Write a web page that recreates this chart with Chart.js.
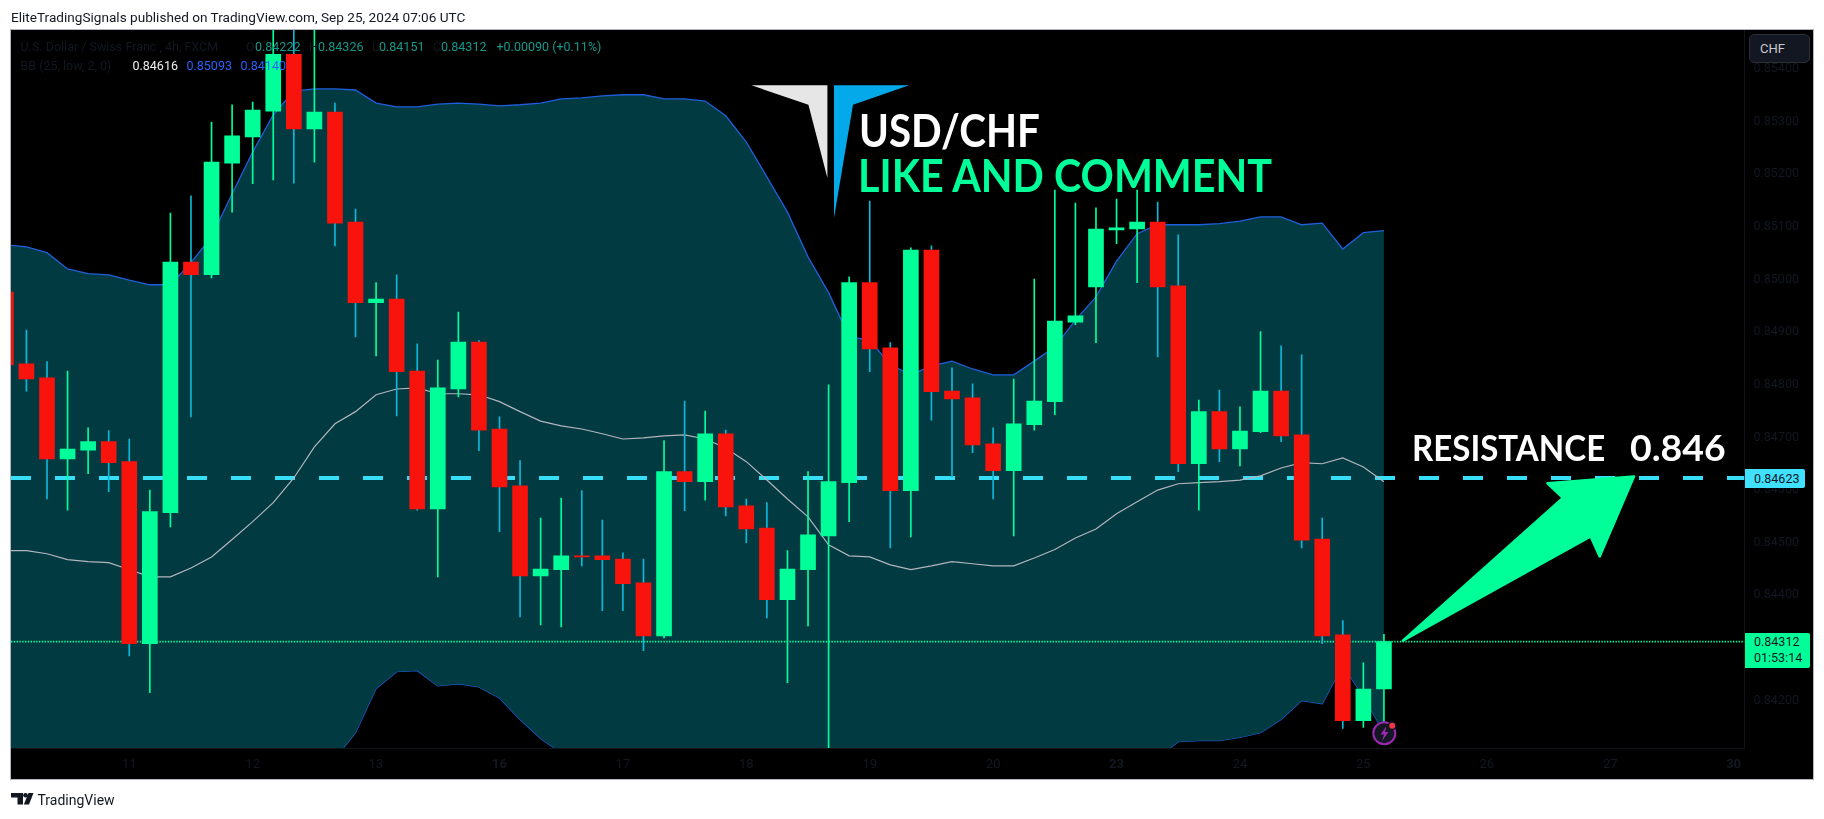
<!DOCTYPE html>
<html>
<head>
<meta charset="utf-8">
<title>USD/CHF</title>
<script src="https://cdn.jsdelivr.net/npm/chart.js@4"></script>
<style>
  html, body { margin: 0; padding: 0; background: #fff; width: 1824px; height: 819px; overflow: hidden; }
  #frame { position: absolute; left: 10px; top: 29px; width: 1802px; height: 749px; background: #000; border: 1px solid #b2b5be; }
  #graphic { position: absolute; left: 0; top: 0; }
  .txt { position: absolute; white-space: pre; font-family: Roboto, sans-serif; }
  .dark { color: #131722; }
  .teal { color: #14998a; }
  .blue { color: #2962ff; }
  .row1, .row2 { font-size: 12.5px; line-height: 16px; }
  .row1 { top: 39px; }
  .row2 { top: 58px; }
  .big { font-family: Lato, sans-serif; font-weight: 700; transform-origin: left top; }
  #chf { position: absolute; left: 1749px; top: 34px; width: 59px; height: 27px; background: #131722; border: 1px solid #2a2e39; border-radius: 5px; color: #c9cbd1; font: 13px/27px Roboto, sans-serif; text-indent: 10px; }
  .tag { position: absolute; left: 1745px; color: #131722; font: 12.5px/19px Roboto, sans-serif; padding-left: 9px; box-sizing: border-box; border-radius: 0 2px 2px 0; }
  svg { position: absolute; overflow: visible; }
</style>
</head>
<body>
<div id="frame"></div>
<canvas id="graphic" width="1824" height="819"></canvas>

<div class="txt dark" style="left:11px;top:9px;font-size:13.6px;line-height:16px">EliteTradingSignals published on TradingView.com, Sep 25, 2024 07:06 UTC</div>

<div class="txt dark row1" style="left:20.5px">U.S. Dollar / Swiss Franc , 4h, FXCM</div>
<div class="txt dark row1" style="left:246px">O</div><div class="txt teal row1" style="left:255px">0.84222</div>
<div class="txt dark row1" style="left:309px">H</div><div class="txt teal row1" style="left:318px">0.84326</div>
<div class="txt dark row1" style="left:372px">L</div><div class="txt teal row1" style="left:379px">0.84151</div>
<div class="txt dark row1" style="left:433px">C</div><div class="txt teal row1" style="left:441px">0.84312</div>
<div class="txt teal row1" style="left:496.5px">+0.00090 (+0.11%)</div>
<div class="txt dark row2" style="left:20.5px">BB (25, low, 2, 0)</div>
<div class="txt row2" style="left:132.5px;color:#eee">0.84616</div>
<div class="txt blue row2" style="left:186.5px">0.85093</div>
<div class="txt blue row2" style="left:240.5px">0.84140</div>

<svg style="left:0;top:0" width="1824" height="819">
  <polygon points="751.4,85.3 827.4,85.3 827.4,178 808.4,104.7" fill="#e6e6e6"/>
  <polygon points="834,85.3 909.2,85.3 853,104.7 834,218" fill="#03a9e8"/>
  <circle cx="1384.3" cy="733.3" r="11" fill="#131722" stroke="#9c27b0" stroke-width="2"/>
  <polygon points="1386.5,726 1380.5,734.5 1384,734.5 1382,741 1388.5,732 1385,732" fill="#9c27b0"/>
  <circle cx="1392.2" cy="725.7" r="4.5" fill="#131722"/>
  <circle cx="1392.2" cy="725.7" r="3" fill="#f23645"/>
  <g fill="#131722">
    <polygon points="11,793 23,793 23,804.5 17.5,804.5 17.5,797.5 11,797.5"/>
    <circle cx="25.5" cy="795.3" r="2.3"/>
    <polygon points="28.5,793 33.5,793 29,804.5 23.8,804.5"/>
  </g>
</svg>

<div class="txt big" data-w="181" style="left:859px;top:103px;font-size:45px;line-height:54px;color:#fff">USD/CHF</div>
<div class="txt big" data-w="414" style="left:858px;top:148px;font-size:45px;line-height:54px;color:#00ff99">LIKE AND COMMENT</div>
<div class="txt big" data-w="193" style="left:1411.5px;top:425px;font-size:37px;line-height:44px;color:#fff">RESISTANCE</div>
<div class="txt big" data-w="96" style="left:1630px;top:425px;font-size:37px;line-height:44px;color:#fff">0.846</div>

<div id="chf">CHF</div>
<div class="tag" style="top:469px;width:60px;height:19px;background:#40e0ff">0.84623</div>
<div class="tag" style="top:633px;width:65px;height:35px;background:#00ff99;line-height:16px;padding-top:1px">0.84312<br>01:53:14</div>

<div class="txt dark" style="left:37.5px;top:791px;font-size:14px;line-height:18px">TradingView</div>

<script>
// Candles, one every 4 hours
const candleOpen = [
  0.84976, 0.84840, 0.84813, 0.84659, 0.84676, 0.84692, 0.84654, 0.84308, 0.84557, 0.85033,
  0.85009, 0.85221, 0.85271, 0.85320, 0.85428, 0.85286, 0.85318, 0.85109, 0.84956, 0.84963,
  0.84826, 0.84564, 0.84792, 0.84881, 0.84716, 0.84608, 0.84437, 0.84449, 0.84475, 0.84475,
  0.84469, 0.84424, 0.84323, 0.84635, 0.84616, 0.84707, 0.84570, 0.84528, 0.84392, 0.84449,
  0.84513, 0.84614, 0.84994, 0.84870, 0.84599, 0.85056, 0.84788, 0.84775, 0.84688, 0.84637,
  0.84724, 0.84768, 0.84919, 0.84986, 0.85094, 0.85096, 0.85109, 0.84988, 0.84650, 0.84749,
  0.84678, 0.84711, 0.84788, 0.84705, 0.84507, 0.84325, 0.84162, 0.84222
];
const candleHigh = [
  0.84999, 0.84904, 0.84844, 0.84826, 0.84718, 0.84713, 0.84697, 0.84600, 0.85126, 0.85159,
  0.85299, 0.85332, 0.85337, 0.85503, 0.85512, 0.85503, 0.85335, 0.85134, 0.84994, 0.85009,
  0.84878, 0.84847, 0.84938, 0.84884, 0.84739, 0.84656, 0.84547, 0.84585, 0.84599, 0.84543,
  0.84481, 0.84469, 0.84694, 0.84769, 0.84750, 0.84714, 0.84583, 0.84576, 0.84485, 0.84635,
  0.84800, 0.85005, 0.85149, 0.84880, 0.85060, 0.85064, 0.84832, 0.84802, 0.84718, 0.84811,
  0.85001, 0.85170, 0.85145, 0.85136, 0.85153, 0.85170, 0.85147, 0.85085, 0.84771, 0.84790,
  0.84758, 0.84901, 0.84874, 0.84857, 0.84547, 0.84352, 0.84272, 0.84326
];
const candleLow = [
  0.84819, 0.84788, 0.84583, 0.84562, 0.84631, 0.84597, 0.84285, 0.84215, 0.84530, 0.84739,
  0.85003, 0.85128, 0.85182, 0.85189, 0.85183, 0.85223, 0.85064, 0.84891, 0.84855, 0.84741,
  0.84562, 0.84435, 0.84777, 0.84675, 0.84521, 0.84359, 0.84344, 0.84340, 0.84456, 0.84371,
  0.84371, 0.84295, 0.84319, 0.84561, 0.84581, 0.84551, 0.84500, 0.84357, 0.84234, 0.84342,
  0.84069, 0.84540, 0.84825, 0.84490, 0.84511, 0.84733, 0.84625, 0.84671, 0.84583, 0.84513,
  0.84714, 0.84743, 0.84914, 0.84880, 0.85068, 0.84994, 0.84853, 0.84635, 0.84562, 0.84654,
  0.84646, 0.84709, 0.84692, 0.84490, 0.84308, 0.84147, 0.84149, 0.84151
];
const candleClose = [
  0.84838, 0.84811, 0.84659, 0.84678, 0.84692, 0.84652, 0.84308, 0.84559, 0.85033, 0.85009,
  0.85223, 0.85273, 0.85322, 0.85428, 0.85286, 0.85318, 0.85107, 0.84956, 0.84963, 0.84825,
  0.84564, 0.84794, 0.84881, 0.84714, 0.84606, 0.84437, 0.84450, 0.84475, 0.84473, 0.84468,
  0.84422, 0.84323, 0.84635, 0.84616, 0.84707, 0.84568, 0.84526, 0.84392, 0.84450, 0.84515,
  0.84616, 0.84994, 0.84868, 0.84599, 0.85056, 0.84787, 0.84773, 0.84686, 0.84637, 0.84726,
  0.84769, 0.84921, 0.84931, 0.85096, 0.85098, 0.85109, 0.84986, 0.84650, 0.84749, 0.84678,
  0.84712, 0.84788, 0.84703, 0.84505, 0.84323, 0.84162, 0.84222, 0.84312
];

// Bollinger bands
const bbUpper = [
  0.85066, 0.85062, 0.85051, 0.85020, 0.85011, 0.85009, 0.84999, 0.84990, 0.84990, 0.85032,
  0.85081, 0.85163, 0.85242, 0.85313, 0.85358, 0.85362, 0.85362, 0.85360, 0.85335, 0.85328,
  0.85328, 0.85333, 0.85335, 0.85333, 0.85330, 0.85332, 0.85335, 0.85343, 0.85345, 0.85349,
  0.85351, 0.85351, 0.85343, 0.85343, 0.85339, 0.85311, 0.85261, 0.85195, 0.85128, 0.85043,
  0.84975, 0.84891, 0.84885, 0.84838, 0.84819, 0.84836, 0.84845, 0.84830, 0.84819, 0.84819,
  0.84845, 0.84872, 0.84923, 0.84967, 0.85035, 0.85087, 0.85104, 0.85104, 0.85104, 0.85106,
  0.85111, 0.85119, 0.85119, 0.85104, 0.85107, 0.85058, 0.85089, 0.85093
];
const bbMiddle = [
  0.84485, 0.84485, 0.84479, 0.84468, 0.84464, 0.84462, 0.84449, 0.84435, 0.84435, 0.84452,
  0.84473, 0.84506, 0.84540, 0.84576, 0.84623, 0.84682, 0.84726, 0.84749, 0.84781, 0.84792,
  0.84794, 0.84783, 0.84783, 0.84781, 0.84768, 0.84749, 0.84731, 0.84722, 0.84716, 0.84707,
  0.84697, 0.84699, 0.84703, 0.84705, 0.84697, 0.84680, 0.84654, 0.84619, 0.84583, 0.84549,
  0.84496, 0.84475, 0.84473, 0.84458, 0.84449, 0.84456, 0.84464, 0.84460, 0.84456, 0.84456,
  0.84471, 0.84487, 0.84509, 0.84526, 0.84555, 0.84578, 0.84600, 0.84612, 0.84614, 0.84616,
  0.84619, 0.84627, 0.84642, 0.84652, 0.84650, 0.84661, 0.84644, 0.84616
];
const bbLower = [
  0.83904, 0.83907, 0.83907, 0.83915, 0.83917, 0.83915, 0.83898, 0.83881, 0.83881, 0.83886,
  0.83866, 0.83849, 0.83837, 0.83839, 0.83888, 0.84002, 0.84090, 0.84139, 0.84223, 0.84255,
  0.84257, 0.84228, 0.84232, 0.84226, 0.84205, 0.84164, 0.84128, 0.84101, 0.84088, 0.84065,
  0.84044, 0.84048, 0.84063, 0.84067, 0.84055, 0.84050, 0.84046, 0.84044, 0.84038, 0.84055,
  0.84017, 0.84059, 0.84061, 0.84078, 0.84078, 0.84076, 0.84082, 0.84090, 0.84093, 0.84093,
  0.84097, 0.84101, 0.84095, 0.84086, 0.84074, 0.84069, 0.84092, 0.84122, 0.84124, 0.84124,
  0.84130, 0.84139, 0.84164, 0.84200, 0.84194, 0.84268, 0.84207, 0.84140
];

// Axes
const dayLabels = ['11', '12', '13', '16', '17', '18', '19', '20', '23', '24', '25', '26', '27', '30'];
const dayBars = [6, 12, 18, 24, 30, 36, 42, 48, 54, 60, 66, 72, 78, 84];
const boldDays = ['16', '23', '30'];
const priceTicks = [0.842, 0.843, 0.844, 0.845, 0.846, 0.847, 0.848, 0.849, 0.85, 0.851, 0.852, 0.853, 0.854];
const xMin = 0.25, xMax = 84.53;
const yMin = 0.8411, yMax = 0.85474;

// Drawn levels
const resistance = 0.84623;
const lastClose = candleClose[candleClose.length - 1];
// tail, inner notch, left of head, tip, right of head, inner notch
const arrowBars = [67.92, 75.7, 74.95, 79.16, 77.49, 77.05];
const arrowPrices = [0.84314, 0.84585, 0.84613, 0.84626, 0.84474, 0.84512];

const UP = '#00ff99';
const DOWN = '#f8130d';
const WICK_DOWN = '#0db9d6';
const BAND = '#023a42';
const BB_LINE = '#1f5fdc';

const isUp = candleOpen.map((o, i) => candleClose[i] >= o);
const pick = (wantUp, fn) => candleOpen.map((o, i) => ({ i, up: isUp[i] }))
  .filter((c) => c.up === wantUp)
  .map((c) => ({ x: c.i, y: fn(c.i) }));
const wick = (i) => [candleLow[i], candleHigh[i]];
const body = (i) => [candleOpen[i], candleClose[i]];
const line = (arr) => arr.map((v, i) => ({ x: i, y: v }));

// Squeeze the big labels to the width they have in the picture
document.querySelectorAll('.big').forEach((el) => {
  el.style.transform = 'scaleX(' + el.dataset.w / el.offsetWidth + ')';
});

// Arrow annotation, positioned with the chart's own scales
const arrowPlugin = {
  id: 'arrow',
  afterDatasetsDraw(chart) {
    const { ctx, scales } = chart;
    ctx.save();
    ctx.beginPath();
    arrowBars.forEach((b, i) => {
      const px = scales.x.getPixelForValue(b);
      const py = scales.y.getPixelForValue(arrowPrices[i]);
      if (i === 0) ctx.moveTo(px, py); else ctx.lineTo(px, py);
    });
    ctx.closePath();
    ctx.fillStyle = UP;
    ctx.strokeStyle = UP;
    ctx.lineWidth = 2.5;
    ctx.lineJoin = 'round';
    ctx.fill();
    ctx.stroke();
    ctx.restore();
  }
};

const flat = { pointRadius: 0, tension: 0 };

const chart = new Chart(document.querySelector('#graphic'), {
  data: {
    datasets: [
      { type: 'line', data: line(bbUpper), borderColor: BB_LINE, borderWidth: 1.3, backgroundColor: BAND, fill: '+1', order: 5, ...flat },
      { type: 'line', data: line(bbLower), borderColor: BB_LINE, borderWidth: 1.3, fill: false, order: 5, ...flat },
      { type: 'line', data: [{ x: xMin, y: resistance }, { x: xMax, y: resistance }], borderColor: '#36def8', borderWidth: 4, borderDash: [20, 24], fill: false, order: 4, ...flat },
      { type: 'line', data: [{ x: xMin, y: lastClose }, { x: xMax, y: lastClose }], borderColor: UP, borderWidth: 1.6, borderDash: [1.4, 1.4], fill: false, order: 4, ...flat },
      { type: 'line', data: line(bbMiddle), borderColor: '#b2b5be', borderWidth: 1.2, fill: false, order: 3, ...flat },
      { type: 'bar', data: pick(false, wick), backgroundColor: WICK_DOWN, barThickness: 1, grouped: false, order: 2 },
      { type: 'bar', data: pick(true, wick), backgroundColor: UP, barThickness: 1, grouped: false, order: 2 },
      { type: 'bar', data: pick(false, body), backgroundColor: DOWN, barThickness: 15, grouped: false, order: 1 },
      { type: 'bar', data: pick(true, body), backgroundColor: UP, barThickness: 15, grouped: false, order: 1 }
    ]
  },
  options: {
    responsive: false,
    animation: false,
    layout: { padding: { left: 11, top: 30, right: 11, bottom: 40 } },
    plugins: { legend: { display: false }, tooltip: { enabled: false } },
    scales: {
      x: {
        type: 'linear',
        min: xMin,
        max: xMax,
        offset: false,
        grid: { display: false, drawTicks: false },
        border: { display: true, color: '#101318' },
        afterBuildTicks(scale) { scale.ticks = dayBars.map((v) => ({ value: v })); },
        afterFit(scale) { scale.height = 31; },
        ticks: {
          autoSkip: false,
          maxRotation: 0,
          padding: 9,
          color: '#131722',
          callback: (v) => dayLabels[dayBars.indexOf(v)],
          font: (ctx) => ({
            family: 'Roboto',
            size: 13,
            weight: ctx.tick && boldDays.includes(dayLabels[dayBars.indexOf(ctx.tick.value)]) ? 'bold' : 'normal'
          })
        }
      },
      y: {
        position: 'right',
        min: yMin,
        max: yMax,
        grid: { display: false, drawTicks: false },
        border: { display: true, color: '#101318' },
        afterBuildTicks(scale) { scale.ticks = priceTicks.map((v) => ({ value: v })); },
        afterFit(scale) { scale.width = 68.5; },
        ticks: {
          autoSkip: false,
          padding: 9,
          color: '#131722',
          font: { family: 'Roboto', size: 12.5 },
          callback: (v) => v.toFixed(5)
        }
      }
    }
  },
  plugins: [arrowPlugin]
});
</script>
</body>
</html>
